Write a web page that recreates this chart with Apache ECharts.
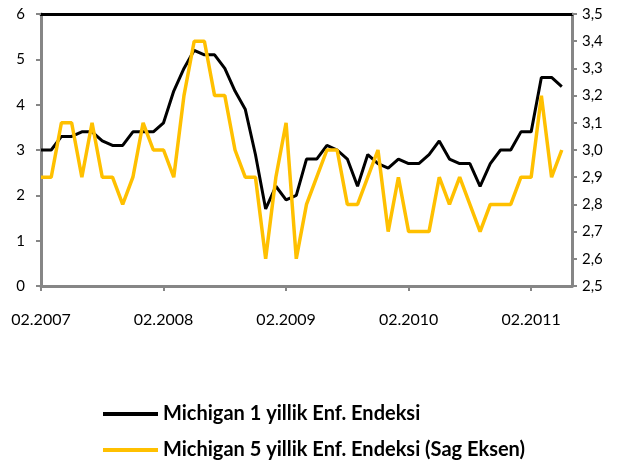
<!DOCTYPE html>
<html>
<head>
<meta charset="utf-8">
<script src="https://cdn.jsdelivr.net/npm/echarts@6/dist/echarts.min.js"></script>
<style>
  html, body { margin: 0; padding: 0; background: #fff; }
  #chart { width: 618px; height: 464px; }
</style>
</head>
<body>
<div id="chart"></div>
<script>
const categories = [
  '02.2007','03.2007','04.2007','05.2007','06.2007','07.2007','08.2007','09.2007','10.2007','11.2007','12.2007',
  '01.2008','02.2008','03.2008','04.2008','05.2008','06.2008','07.2008','08.2008','09.2008','10.2008','11.2008','12.2008',
  '01.2009','02.2009','03.2009','04.2009','05.2009','06.2009','07.2009','08.2009','09.2009','10.2009','11.2009','12.2009',
  '01.2010','02.2010','03.2010','04.2010','05.2010','06.2010','07.2010','08.2010','09.2010','10.2010','11.2010','12.2010',
  '01.2011','02.2011','03.2011','04.2011','05.2011','06.2011'
];
const oneYear = [
  3.0, 3.0, 3.3, 3.3, 3.4, 3.4, 3.2, 3.1, 3.1, 3.4, 3.4,
  3.4, 3.6, 4.3, 4.8, 5.2, 5.1, 5.1, 4.8, 4.3, 3.9, 2.9, 1.7,
  2.2, 1.9, 2.0, 2.8, 2.8, 3.1, 3.0, 2.8, 2.2, 2.9, 2.7, 2.6,
  2.8, 2.7, 2.7, 2.9, 3.2, 2.8, 2.7, 2.7, 2.2, 2.7, 3.0, 3.0,
  3.4, 3.4, 4.6, 4.6, 4.4
];
const fiveYear = [
  2.9, 2.9, 3.1, 3.1, 2.9, 3.1, 2.9, 2.9, 2.8, 2.9, 3.1,
  3.0, 3.0, 2.9, 3.2, 3.4, 3.4, 3.2, 3.2, 3.0, 2.9, 2.9, 2.6,
  2.9, 3.1, 2.6, 2.8, 2.9, 3.0, 3.0, 2.8, 2.8, 2.9, 3.0, 2.7,
  2.9, 2.7, 2.7, 2.7, 2.9, 2.8, 2.9, 2.8, 2.7, 2.8, 2.8, 2.8,
  2.9, 2.9, 3.2, 2.9, 3.0
];
const seriesNames = ['Michigan 1 yillik Enf. Endeksi', 'Michigan 5 yillik Enf. Endeksi (Sag Eksen)'];

const axisGray = '#868686';
const legendBase = {
  orient: 'horizontal',
  left: 98,
  icon: 'rect',
  itemWidth: 55,
  itemHeight: 4,
  itemGap: 10,
  textStyle: { fontFamily: 'Lato', fontWeight: 'bold', fontSize: 20, color: '#000' }
};
const chart = echarts.init(document.getElementById('chart'), null, { renderer: 'canvas' });
chart.setOption({
  animation: false,
  backgroundColor: '#fff',
  textStyle: { fontFamily: 'Lato' },
  grid: { left: 41, right: 46, top: 14, bottom: 178, containLabel: false },
  legend: [
    Object.assign({}, legendBase, { top: 399, data: [seriesNames[0]] }),
    Object.assign({}, legendBase, { top: 435, data: [seriesNames[1]] })
  ],
  xAxis: [{
    type: 'category',
    data: categories,
    boundaryGap: false,
    axisLine: { lineStyle: { color: axisGray, width: 3 } },
    axisTick: { show: true, interval: 11, length: 5, lineStyle: { color: axisGray, width: 2 } },
    axisLabel: { interval: 11, margin: 26, fontSize: 16, color: '#000', fontFamily: 'Lato' },
    splitLine: { show: false }
  }, {
    type: 'category',
    data: categories,
    boundaryGap: false,
    position: 'top',
    axisLine: { lineStyle: { color: '#000', width: 3 } },
    axisTick: { show: false },
    axisLabel: { show: false },
    splitLine: { show: false }
  }],
  yAxis: [{
    type: 'value',
    min: 0, max: 6, interval: 1,
    position: 'left',
    axisLine: { show: true, lineStyle: { color: axisGray, width: 3 } },
    axisTick: { show: true, length: 5, lineStyle: { color: axisGray, width: 2 } },
    axisLabel: { margin: 16, fontSize: 15, color: '#000', fontFamily: 'Lato' },
    splitLine: { show: false }
  }, {
    type: 'value',
    min: 2.5, max: 3.5, interval: 0.1,
    position: 'right',
    axisLine: { show: true, lineStyle: { color: axisGray, width: 3 } },
    axisTick: { show: true, length: 5, lineStyle: { color: axisGray, width: 2 } },
    axisLabel: {
      margin: 10, fontSize: 15, color: '#000', fontFamily: 'Lato',
      formatter: v => v.toFixed(1).replace('.', ',')
    },
    splitLine: { show: false }
  }],
  series: [{
    name: seriesNames[0],
    type: 'line',
    yAxisIndex: 0,
    data: oneYear,
    symbol: 'none',
    lineStyle: { color: '#000', width: 3 },
    itemStyle: { color: '#000' },
    z: 3
  }, {
    name: seriesNames[1],
    type: 'line',
    yAxisIndex: 1,
    data: fiveYear,
    symbol: 'none',
    lineStyle: { color: '#FFC000', width: 3.5 },
    itemStyle: { color: '#FFC000' },
    z: 4
  }]
});
</script>
</body>
</html>
